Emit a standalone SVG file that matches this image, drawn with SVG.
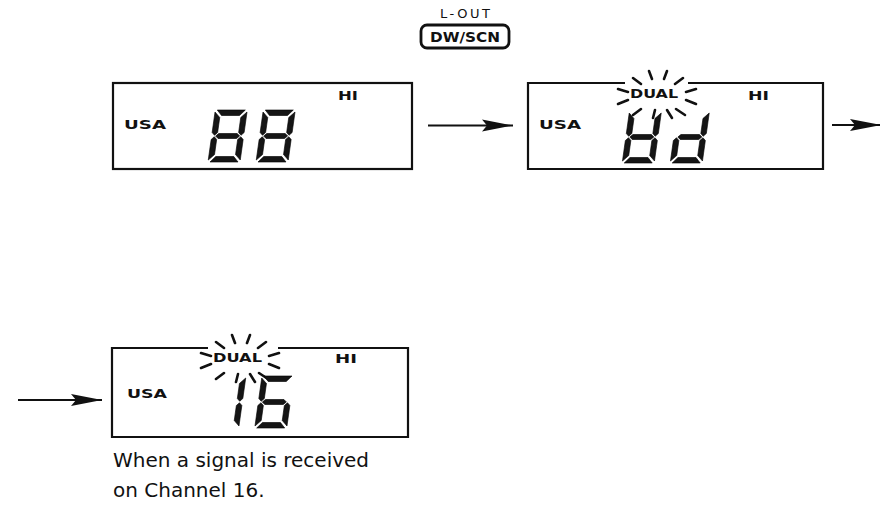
<svg xmlns="http://www.w3.org/2000/svg" xmlns:xlink="http://www.w3.org/1999/xlink" width="880" height="514" viewBox="0 0 880 514">
<style>
.box{fill:none;stroke:#111;stroke-width:2.2}
.lcd{font-family:"DejaVu Sans","Liberation Sans",sans-serif;font-weight:bold;font-size:12.5px;fill:#111}
.seg{fill:#151515;stroke:#000;stroke-width:0.6}
.ray{stroke:#111;stroke-width:2.6;stroke-linecap:round;fill:none}
.conn{stroke:#111;stroke-width:2.2;fill:none}
.cap{font-family:"DejaVu Sans","Liberation Sans",sans-serif;font-size:20px;fill:#111}
.btn{fill:none;stroke:#111;stroke-width:2.8}
.btxt{font-family:"DejaVu Sans","Liberation Sans",sans-serif;fill:#111}
</style>
<defs>
<polygon id="sa" class="seg" points="2,0 30,0 25,5.5 7,5.5"/>
<polygon id="sb" class="seg" points="32,2 32,22.5 29.25,25.25 26.5,22.5 26.5,7.5"/>
<polygon id="sc" class="seg" points="32,29.5 32,50 26.5,44.5 26.5,29.5 29.25,26.75"/>
<polygon id="sd" class="seg" points="2,52 7,46.5 25,46.5 30,52"/>
<polygon id="se" class="seg" points="0,29.5 2.75,26.75 5.5,29.5 5.5,44.5 0,50"/>
<polygon id="sf" class="seg" points="0,2 5.5,7.5 5.5,22.5 2.75,25.25 0,22.5"/>
<polygon id="sg" class="seg" points="4,26 6.75,23.5 25.25,23.5 28,26 25.25,28.5 6.75,28.5"/>
<g id="burst" class="ray">
<path d="M-39,-7 L-29,-4 M-39,8 L-29,4 M29,-4 L39,-7 M29,4 L39,8"/>
<path d="M-24,-18 L-16,-12 M-8,-25 L-5,-17 M10,-25 L7,-17 M26,-18 L18,-12"/>
<path d="M-24,19 L-16,13 M-4,22 L-2,14 M10,14 L15,22 M19,13 L28,19"/>
</g>
<marker id="ah" markerUnits="userSpaceOnUse" markerWidth="34" markerHeight="14" viewBox="-32 -7 34 14" refX="0" refY="0" orient="auto">
<path d="M0,0 L-31,-6 L-26,0 L-31,6 Z" fill="#111"/>
</marker>
</defs>

<g id="lout-button">
<text class="btxt" x="465" y="18" font-size="13" text-anchor="middle" textLength="50" lengthAdjust="spacing">L-OUT</text>
<rect class="btn" x="421" y="25" width="88" height="23" rx="6"/>
<text class="btxt" x="465" y="42" font-size="13.5" font-weight="bold" text-anchor="middle" textLength="70" lengthAdjust="spacingAndGlyphs">DW/SCN</text>
</g>

<g id="display1">
<rect class="box" x="113" y="83" width="299" height="86"/>
<text class="lcd" x="124" y="129" textLength="42" lengthAdjust="spacingAndGlyphs">USA</text>
<text class="lcd" x="338" y="100" textLength="20" lengthAdjust="spacingAndGlyphs">HI</text>
<g transform="translate(215.3,110) skewX(-8)">
<use href="#sa"/><use href="#sb"/><use href="#sc"/><use href="#sd"/><use href="#se"/><use href="#sf"/><use href="#sg"/>
</g>
<g transform="translate(263.3,110) skewX(-8)">
<use href="#sa"/><use href="#sb"/><use href="#sc"/><use href="#sd"/><use href="#se"/><use href="#sf"/><use href="#sg"/>
</g>
</g>

<g id="display2">
<path class="box" d="M625,83 H528 V169 H823 V83 H688"/>
<text class="lcd" x="539" y="129" textLength="42" lengthAdjust="spacingAndGlyphs">USA</text>
<text class="lcd" x="748" y="100" textLength="21" lengthAdjust="spacingAndGlyphs">HI</text>
<text class="lcd" x="630" y="98" textLength="48" lengthAdjust="spacingAndGlyphs">DUAL</text>
<use href="#burst" transform="translate(657,96)"/>
<g transform="translate(629.5,111) skewX(-8)">
<use href="#sb"/><use href="#sc"/><use href="#sd"/><use href="#se"/><use href="#sf"/><use href="#sg"/>
</g>
<g transform="translate(677.5,111) skewX(-8)">
<use href="#sb"/><use href="#sc"/><use href="#sd"/><use href="#se"/><use href="#sg"/>
</g>
</g>

<g id="display3">
<path class="box" d="M208,348 H112 V437 H408 V348 H278"/>
<text class="lcd" x="127" y="398" textLength="40" lengthAdjust="spacingAndGlyphs">USA</text>
<text class="lcd" x="335" y="363" textLength="22" lengthAdjust="spacingAndGlyphs">HI</text>
<text class="lcd" x="213" y="362" textLength="49" lengthAdjust="spacingAndGlyphs">DUAL</text>
<use href="#burst" transform="translate(240,360)"/>
<g transform="translate(214,376) skewX(-8)">
<use href="#sb"/><use href="#sc"/>
</g>
<g transform="translate(262,376) skewX(-8)">
<use href="#sa"/><use href="#sc"/><use href="#sd"/><use href="#se"/><use href="#sf"/><use href="#sg"/>
</g>
</g>

<g id="caption">
<text class="cap" x="113" y="467">When a signal is received</text>
<text class="cap" x="113" y="497">on Channel 16.</text>
</g>

<g id="connectors">
<line class="conn" x1="428" y1="125.5" x2="513" y2="125.5" marker-end="url(#ah)"/>
<line class="conn" x1="832" y1="125" x2="881" y2="125" marker-end="url(#ah)"/>
<line class="conn" x1="18" y1="400" x2="102" y2="400" marker-end="url(#ah)"/>
</g>
</svg>
